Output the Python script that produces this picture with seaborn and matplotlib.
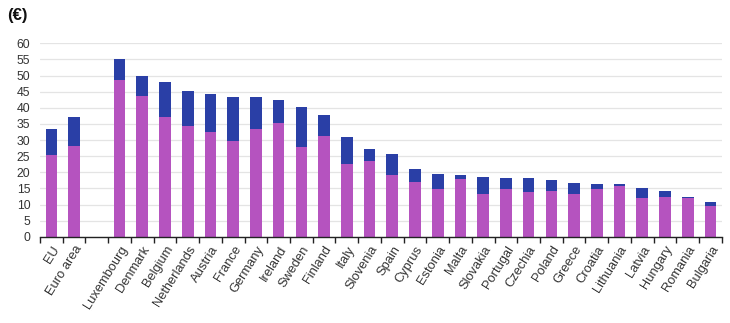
import matplotlib
matplotlib.use("Agg")
import matplotlib.pyplot as plt
import seaborn as sns
import pandas as pd
import numpy as np

categories = ["EU", "Euro area", " ", "Luxembourg", "Denmark", "Belgium", "Netherlands",
              "Austria", "France", "Germany", "Ireland", "Sweden", "Finland", "Italy",
              "Slovenia", "Spain", "Cyprus", "Estonia", "Malta", "Slovakia", "Portugal",
              "Czechia", "Poland", "Greece", "Croatia", "Lithuania", "Latvia", "Hungary",
              "Romania", "Bulgaria"]
countries = [c for c in categories if c.strip()]
net_earnings = [25.3, 28.1, 48.6, 43.7, 37.2, 34.4, 32.5, 29.8, 33.5, 35.4, 27.7, 31.3,
                22.6, 23.6, 19.0, 17.0, 14.8, 18.0, 13.3, 14.8, 13.9, 14.2, 13.2, 14.9,
                15.6, 11.9, 12.3, 11.9, 9.5]
total_cost = [33.5, 37.2, 55.1, 50.0, 48.1, 45.1, 44.3, 43.4, 43.4, 42.5, 40.2, 37.7,
              30.8, 27.1, 25.6, 20.9, 19.6, 19.0, 18.4, 18.2, 18.2, 17.5, 16.8, 16.5,
              16.3, 15.1, 14.2, 12.4, 10.8]

df = pd.DataFrame({"country": countries, "net": net_earnings, "total": total_cost})

sns.set_theme(style="white")
plt.rcParams["font.family"] = ["Liberation Sans", "DejaVu Sans"]

fig = plt.figure(figsize=(7.3, 3.23), dpi=100)
ax = fig.add_axes([0.0548, 0.267, 0.934, 0.599])

blue = "#2a3fa6"
pink = "#b553bf"
sns.barplot(data=df, x="country", y="total", order=categories, color=blue,
            saturation=1, width=0.51, ax=ax, edgecolor="none")
sns.barplot(data=df, x="country", y="net", order=categories, color=pink,
            saturation=1, width=0.51, ax=ax, edgecolor="none")
for p in ax.patches:
    p.set_linewidth(0)

ax.set_xlim(-0.5, len(categories) - 0.5)
ax.set_ylim(0, 60)
ax.set_yticks(np.arange(0, 61, 5))
ax.yaxis.grid(True, color="#e4e4e4", linewidth=0.9)
ax.set_axisbelow(True)
for s in ["left", "right", "top"]:
    ax.spines[s].set_visible(False)
ax.spines["bottom"].set_color("#222222")
ax.spines["bottom"].set_linewidth(1.0)
ax.set_xlabel("")
ax.set_ylabel("")
ax.tick_params(axis="y", length=0, labelsize=8.8, labelcolor="#333333", pad=7)
ax.set_xticks(range(len(categories)))
ax.set_xticklabels(categories, rotation=58, ha="right", rotation_mode="anchor",
                   fontsize=9.3, color="#333333")
ax.tick_params(axis="x", which="major", length=0, pad=5)
ax.set_xticks(np.arange(-0.5, len(categories), 1), minor=True)
ax.tick_params(axis="x", which="minor", length=4, width=1, color="#222222", direction="out")
ax.xaxis.set_tick_params(which="minor", bottom=True)

fig.text(0.010, 0.952, "(€)", fontsize=12, fontweight="bold", color="#111111",
         ha="left", va="center")

fig.savefig("out.png", dpi=100)
